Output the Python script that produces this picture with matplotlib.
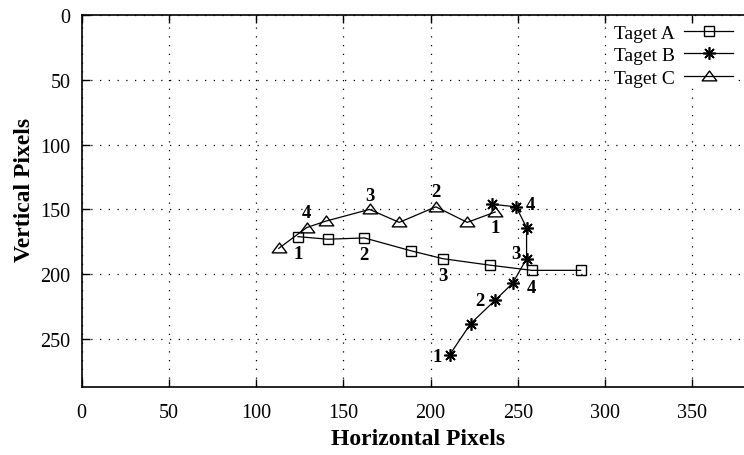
import matplotlib
matplotlib.use("Agg")
import matplotlib.pyplot as plt
from matplotlib.path import Path
import numpy as np

# ---- data ----
a_x = [124, 141, 162, 189, 207, 234, 258, 286]
a_y = [171, 173, 172, 182, 188, 193, 197, 197]
b_x = [211, 223, 237, 247, 255, 255, 249, 235]
b_y = [262, 238, 220, 207, 188, 164, 148, 146]
c_x = [113, 129, 140, 165, 182, 203, 221, 237]
c_y = [180, 164, 159, 150, 160, 148, 160, 152]

# point labels: (index, text)
a_labels = [(0, "1"), (2, "2"), (4, "3"), (6, "4")]
b_labels = [(0, "1"), (2, "2"), (4, "3"), (6, "4")]
c_labels = [(7, "1"), (5, "2"), (3, "3"), (1, "4")]

x_ticks = [0, 50, 100, 150, 200, 250, 300, 350]
y_ticks = [0, 50, 100, 150, 200, 250]
series_names = ["Taget A", "Taget B", "Taget C"]

plt.rcParams['font.family'] = ['Liberation Serif', 'DejaVu Serif']

W, H = 744, 456
fig = plt.figure(figsize=(W / 100, H / 100), dpi=100)
left, top, bottom = 81.7, 15.9, 388.3
ax = fig.add_axes([left / W, 1 - bottom / H, (W - left) / W, (bottom - top) / H])

tri = Path([(-1, -0.6), (1, -0.6), (0, 0.75), (-1, -0.6)],
           [Path.MOVETO, Path.LINETO, Path.LINETO, Path.CLOSEPOLY])

lw = 0.9
ax.plot(a_x, a_y, color='black', lw=lw, marker='s', markersize=7,
        markerfacecolor='none', markeredgecolor='black', markeredgewidth=1.0,
        label=series_names[0], zorder=3)
ax.plot(b_x, b_y, color='black', lw=lw, marker=(8, 2, 0), markersize=9,
        markeredgewidth=1.2, markeredgecolor='black',
        label=series_names[1], zorder=3)
ax.plot(c_x, c_y, color='black', lw=lw, marker=tri, markersize=10.5,
        markerfacecolor='none', markeredgecolor='black', markeredgewidth=1.0,
        label=series_names[2], zorder=3)

lab_kw = dict(fontsize=13.5, fontweight='bold', ha='center', va='center',
              textcoords='offset pixels', zorder=4)
for i, t in a_labels:
    ax.annotate(t, (a_x[i], a_y[i]), xytext=(0, -17), **lab_kw)
b_off = [(-13, -2), (-15, 0), (-11, 5), (14, 2)]
for (i, t), off in zip(b_labels, b_off):
    ax.annotate(t, (b_x[i], b_y[i]), xytext=off, **lab_kw)
c_off = [(0, -16), (0, 15), (0, 14), (0, 15)]
for (i, t), off in zip(c_labels, c_off):
    ax.annotate(t, (c_x[i], c_y[i]), xytext=off, **lab_kw)

ax.set_xlim(0, (W - left) / 1.7446)
ax.set_ylim((bottom - top) / 1.2967, 0)
ax.set_xticks(x_ticks)
ax.set_yticks(y_ticks)
ax.tick_params(direction='in', length=6, width=1, labelsize=14.5,
               top=True, right=False)
ax.tick_params(axis='x', pad=11)
ax.tick_params(axis='y', pad=8)
ax.grid(True, color='black', linestyle=(0, (1, 6)), linewidth=0.9)
for s in ['left', 'bottom', 'top']:
    ax.spines[s].set_linewidth(1.2)
ax.spines['right'].set_visible(False)

ax.set_xlabel("Horizontal Pixels", fontsize=17, fontweight='bold')
ax.set_ylabel("Vertical Pixels", fontsize=17, fontweight='bold')
ax.xaxis.set_label_coords((418 - left) / (W - left), -(440 - bottom) / (bottom - top))
ax.yaxis.set_label_coords((25 - left) / (W - left), 1 - (190 - top) / (bottom - top))
ax.xaxis.label.set_va('center')
ax.yaxis.label.set_va('center')

leg = ax.legend(loc='upper right', bbox_to_anchor=(733 / W, 1 - 25 / H),
                bbox_transform=fig.transFigure, markerfirst=False,
                frameon=True, fancybox=False, framealpha=1, edgecolor='none',
                fontsize=14, handlelength=2.5, handletextpad=0.5,
                labelspacing=0.25, borderpad=0.0, borderaxespad=0)

fig.savefig("out.png", dpi=100)
